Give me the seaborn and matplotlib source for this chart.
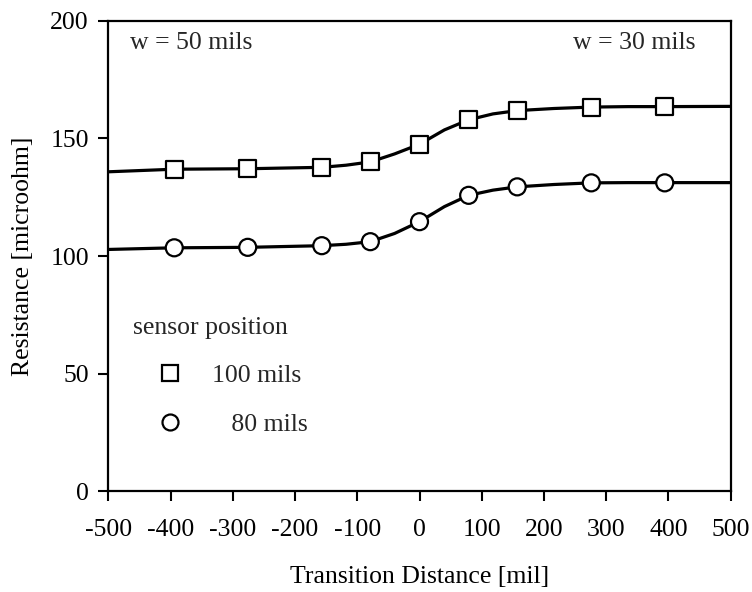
import numpy as np
import pandas as pd
import seaborn as sns
import matplotlib.pyplot as plt
from matplotlib.lines import Line2D

sns.set_theme(style="white")
plt.rcParams["font.family"] = ["Liberation Serif", "DejaVu Serif"]
plt.rcParams["axes.unicode_minus"] = False

# measured points (transition distance in mil, resistance in microohm)
x_pos = [-394, -276, -157, -79, 0, 79, 157, 276, 394]
r_100 = [136.9, 137.1, 137.7, 140.0, 147.5, 157.9, 161.8, 163.3, 163.5]
r_80 = [103.5, 103.7, 104.4, 106.1, 114.6, 125.8, 129.4, 131.1, 131.1]

# fitted curves
curve_x = [-500, -394, -276, -157, -118, -79, -40, 0, 40, 79, 118, 157, 216, 276, 335, 394, 500]
curve_100 = [135.8, 136.9, 137.1, 137.7, 138.6, 140.0, 143.4, 147.5, 153.6, 157.9, 160.4, 161.8, 162.7, 163.3, 163.5, 163.5, 163.6]
curve_80 = [102.8, 103.5, 103.7, 104.4, 105.0, 106.1, 109.6, 114.6, 121.0, 125.8, 128.0, 129.4, 130.4, 131.1, 131.2, 131.2, 131.2]

FS = 18.5

fig = plt.figure(figsize=(7.52, 5.92), dpi=100)
ax = fig.add_axes([0.144, 0.170, 0.8277, 0.795])

pts = pd.DataFrame({"x": x_pos * 2, "r": r_100 + r_80,
                    "pos": ["100 mils"] * len(x_pos) + ["80 mils"] * len(x_pos)})
crv = pd.DataFrame({"x": curve_x * 2, "r": curve_100 + curve_80,
                    "pos": ["100 mils"] * len(curve_x) + ["80 mils"] * len(curve_x)})

sns.lineplot(data=crv, x="x", y="r", units="pos", estimator=None, color="black",
             lw=2.3, sort=True, ax=ax, legend=False)
sns.scatterplot(data=pts, x="x", y="r", style="pos", markers={"100 mils": "s", "80 mils": "o"},
                s=150, facecolor="white", edgecolor="black", linewidth=1.6, ax=ax,
                legend=False, zorder=3)

ax.set_xlim(-500, 500)
ax.set_ylim(0, 200)
ax.set_xticks(np.arange(-500, 501, 100))
ax.set_yticks(np.arange(0, 201, 50))
for sp in ax.spines.values():
    sp.set_color("black")
    sp.set_linewidth(1.6)
ax.tick_params(axis="both", direction="out", length=7, width=1.5, color="black",
               labelsize=FS, labelcolor="black")
ax.tick_params(axis="x", pad=13, bottom=True)
ax.tick_params(axis="y", pad=7, left=True)
ax.set_xlabel("Transition Distance [mil]", fontsize=FS, labelpad=18, color="black")
ax.set_ylabel("Resistance [microohm]", fontsize=FS, labelpad=12, color="black")

ax.text(0.035, 0.953, "w = 50 mils", transform=ax.transAxes, fontsize=FS, va="center", ha="left")
ax.text(0.943, 0.953, "w = 30 mils", transform=ax.transAxes, fontsize=FS, va="center", ha="right")

handles = [
    Line2D([], [], marker="s", ls="none", mfc="white", mec="black", ms=11.5, mew=1.6),
    Line2D([], [], marker="o", ls="none", mfc="white", mec="black", ms=11.5, mew=1.6),
]
leg = ax.legend(handles, ["100 mils", "\u2007 80 mils"], title="sensor position",
                loc="upper left", bbox_to_anchor=(0.04, 0.371), frameon=False,
                fontsize=FS, title_fontsize=FS, handlelength=2.85, handletextpad=0.2,
                labelspacing=1.02, borderpad=0, borderaxespad=0, alignment="left")
leg._legend_box.sep = 18

fig.savefig("out.png", dpi=100)
